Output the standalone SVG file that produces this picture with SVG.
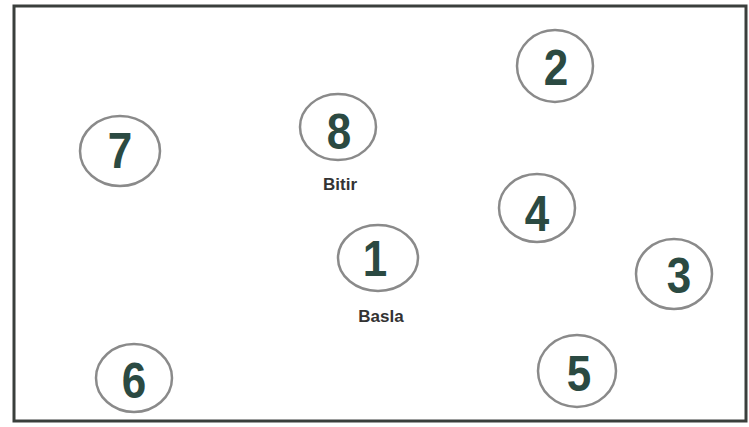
<svg xmlns="http://www.w3.org/2000/svg" width="749" height="427" viewBox="0 0 749 427">
<style>
.c{fill:none;stroke:#8a8a8a;stroke-width:2.5}
.n{font-family:"Liberation Sans",Arial,sans-serif;font-weight:bold;font-size:50px;fill:#2b4a42;text-anchor:middle}
.l{font-family:"Liberation Sans",Arial,sans-serif;font-weight:bold;font-size:17px;fill:#333;text-anchor:middle}
</style>
<rect width="749" height="427" fill="#fff"/>
<rect x="14" y="6" width="732" height="415" fill="none" stroke="#3a3f3c" stroke-width="3"/>
<g id="n2"><ellipse class="c" cx="555" cy="66" rx="38" ry="36"/><text class="n" transform="translate(556,85) scale(0.88,1)">2</text></g>
<g id="n7"><ellipse class="c" cx="120" cy="151" rx="40" ry="35"/><text class="n" transform="translate(120,168) scale(0.88,1)">7</text></g>
<g id="n8"><ellipse class="c" cx="338" cy="127" rx="38" ry="33"/><text class="n" transform="translate(339,149) scale(0.88,1)">8</text><text class="l" x="340" y="190">Bitir</text></g>
<g id="n4"><ellipse class="c" cx="537" cy="208" rx="38" ry="34"/><text class="n" transform="translate(537,231) scale(0.88,1)">4</text></g>
<g id="n1"><ellipse class="c" cx="378" cy="258" rx="40" ry="33"/><text class="n" transform="translate(375,276) scale(0.88,1)">1</text><text class="l" x="381" y="322">Basla</text></g>
<g id="n3"><ellipse class="c" cx="674" cy="274" rx="38" ry="35"/><text class="n" transform="translate(679,293) scale(0.88,1)">3</text></g>
<g id="n6"><ellipse class="c" cx="134" cy="378" rx="38" ry="34"/><text class="n" transform="translate(134,398) scale(0.88,1)">6</text></g>
<g id="n5"><ellipse class="c" cx="577" cy="371" rx="39" ry="36"/><text class="n" transform="translate(579,391) scale(0.88,1)">5</text></g>
<g id="connectors"></g>
</svg>
